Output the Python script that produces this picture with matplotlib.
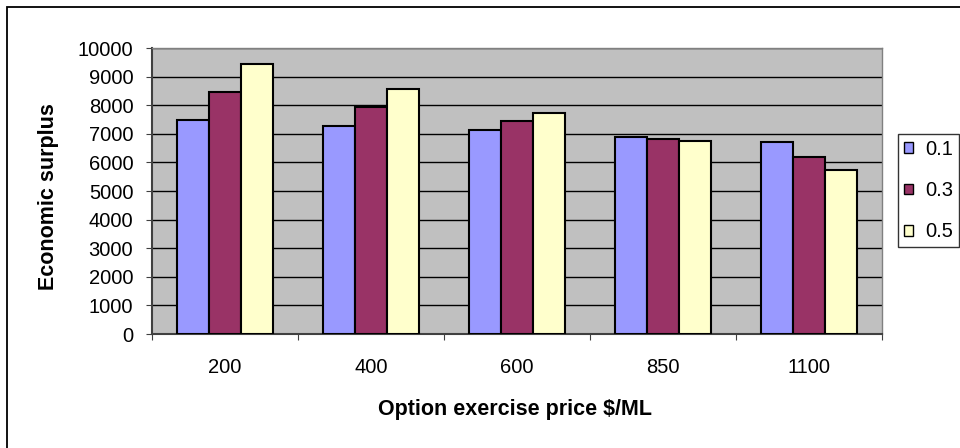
import matplotlib
matplotlib.use("Agg")
import matplotlib.pyplot as plt
from matplotlib.patches import Rectangle, Patch
import numpy as np

plt.rcParams['font.family'] = ['Liberation Sans', 'DejaVu Sans']

categories = ["200", "400", "600", "850", "1100"]
series_names = ["0.1", "0.3", "0.5"]
vals_01 = [7480, 7260, 7120, 6900, 6700]
vals_03 = [8450, 7950, 7450, 6830, 6200]
vals_05 = [9430, 8580, 7740, 6760, 5720]
colors = ["#9999FF", "#993366", "#FFFFCC"]

W, H = 960, 448
fig = plt.figure(figsize=(W / 100, H / 100), dpi=100)
fig.patch.set_facecolor("white")
# outer chart-area border (extends beyond the right and bottom edges)
fig.add_artist(Rectangle((7 / W, -20 / H), (990 - 7) / W, (441 + 20) / H,
                         transform=fig.transFigure, fill=False,
                         edgecolor="black", linewidth=1.3))

left, right, top, bottom = 152, 882, 48, 334
ax = fig.add_axes([left / W, 1 - bottom / H, (right - left) / W, (bottom - top) / H])
ax.set_facecolor("#C0C0C0")

x = np.arange(len(categories))
bw = 0.22
for i, (vals, c) in enumerate(zip([vals_01, vals_03, vals_05], colors)):
    ax.bar(x + (i - 1) * bw, vals, width=bw, color=c, edgecolor="black",
           linewidth=1.5, zorder=3, label=series_names[i])

ax.set_xlim(-0.5, len(categories) - 0.5)
ax.set_ylim(0, 10000)
ax.set_yticks(np.arange(0, 10001, 1000))
ax.set_yticklabels([str(v) for v in range(0, 10001, 1000)], fontsize=14.5)
ax.yaxis.grid(True, color="black", linewidth=1.0, zorder=1)
ax.set_axisbelow(True)

ax.set_xticks(np.arange(-0.5, len(categories), 1.0))
ax.set_xticklabels([])
ax.set_xticks(x, minor=True)
ax.set_xticklabels(categories, minor=True, fontsize=14.5)
ax.tick_params(axis="x", which="minor", length=0, pad=17)
ax.tick_params(axis="x", which="major", length=4.5, direction="out", color="#404040")
ax.tick_params(axis="y", length=4.5, direction="out", color="#404040", pad=9)

for s in ["top", "right"]:
    ax.spines[s].set_color("#808080")
    ax.spines[s].set_linewidth(1.0)
ax.spines["left"].set_color("#404040")
ax.spines["left"].set_linewidth(1.5)
ax.spines["bottom"].set_color("#404040")
ax.spines["bottom"].set_linewidth(1.5)

fig.text(49 / W, 1 - 197 / H, "Economic surplus", rotation=90,
         ha="center", va="center", fontsize=15.5, fontweight="bold")
fig.text(515 / W, 1 - 409 / H, "Option exercise price $/ML",
         ha="center", va="center", fontsize=15.5, fontweight="bold")

handles = [Patch(facecolor=c, edgecolor="black", linewidth=1.0) for c in colors]
leg = fig.legend(handles, series_names, loc="upper left",
                 bbox_to_anchor=(898 / W, 1 - 134 / H),
                 frameon=True, fancybox=False, edgecolor="black",
                 fontsize=14.5, handlelength=0.45, handleheight=0.45,
                 handletextpad=0.6, labelspacing=1.1, borderpad=0.3,
                 borderaxespad=0)
leg.get_frame().set_linewidth(1.0)

fig.savefig("out.png", dpi=100)
